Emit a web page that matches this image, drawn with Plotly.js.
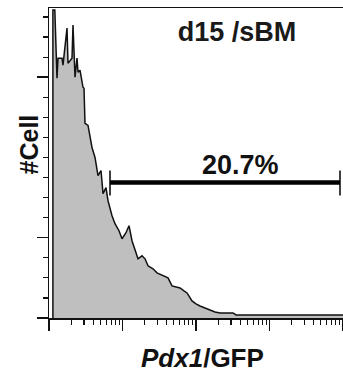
<!DOCTYPE html>
<html>
<head>
<meta charset="utf-8">
<script src="https://cdn.plot.ly/plotly-3.0.1.min.js"></script>
<style>html,body{margin:0;padding:0;background:#fff;}#chart{width:343px;height:379px;}</style>
</head>
<body>
<div id="chart"></div>
<script>
// Pdx1/GFP fluorescence intensity (log scale) and cell counts (arbitrary units)
const gfpIntensity = [1.13, 1.13, 1.2, 1.285, 1.326, 1.503, 1.55, 1.758, 1.814, 2.056, 2.121, 2.258, 2.404, 2.481, 2.641, 2.901, 2.994, 3.089, 3.394, 3.613, 3.846, 4.226, 4.642, 5.099, 5.428, 5.964, 6.349, 7.197, 7.906, 8.962, 9.845, 11.16, 12.26, 13.47, 14.8, 16.25, 18.42, 20.24, 22.23, 26.0, 29.47, 35.56, 41.59, 47.16, 53.45, 60.57, 68.66, 75.44, 88.23, 100, 113.4, 132.6, 155.1, 181.3, 212.1, 318.7, 350.1, 10000];
const cellCount = [0, 15.35, 15.35, 11.95, 12.95, 12.95, 12.6, 14.45, 12.7, 12.95, 14.6, 12.0, 12.95, 12.25, 12.35, 11.5, 11.45, 9.7, 9.6, 9.0, 8.5, 8.0, 7.1, 7.35, 6.2, 6.5, 5.85, 5.1, 4.7, 4.35, 3.95, 4.25, 4.6, 3.85, 3.35, 2.95, 3.1, 2.95, 2.6, 2.45, 2.25, 2.1, 2.0, 1.6, 1.55, 1.5, 1.35, 1.25, 0.85, 0.7, 0.6, 0.5, 0.4, 0.3, 0.25, 0.25, 0.15, 0.15];

// Positive gate
const gateBounds = [6.76, 9100];
const gateLevel = 6.75;
const gateTickLow = 6.1;
const gateTickHigh = 7.35;
const gateLabel = "20.7%";

const sampleTitle = "d15 /sBM";
const xTitle = "<b><i>Pdx1</i>/GFP</b>";
const yTitle = "<b>#Cell</b>";

// axis tick values
const yMajorTicks = [0, 4, 12];
const yMinorTicks = [1, 2, 3, 5, 6, 7, 8, 9, 10, 11, 13, 14, 15];
const xMajorTicks = [1, 10, 100, 1000, 10000];
const xMinorTicks = [];
for (const d of [1, 10, 100, 1000]) for (const m of [2,3,4,5,6,7,8,9]) xMinorTicks.push(d*m);

const traces = [
  {
    x: gfpIntensity, y: cellCount, type: 'scatter', mode: 'lines',
    fill: 'tozeroy', fillcolor: '#bfbfbf',
    line: {color: '#111', width: 1.5, shape: 'linear'},
    hoverinfo: 'skip', showlegend: false
  },
  {
    x: gateBounds, y: [gateLevel, gateLevel], type: 'scatter', mode: 'lines',
    line: {color: '#000', width: 4.5}, showlegend: false, hoverinfo: 'skip'
  },
  {
    x: [gateBounds[0], gateBounds[0]], y: [gateTickLow, gateTickHigh], type: 'scatter', mode: 'lines',
    line: {color: '#000', width: 1.5}, showlegend: false, hoverinfo: 'skip'
  },
  {
    x: [gateBounds[1], gateBounds[1]], y: [gateTickLow, gateTickHigh], type: 'scatter', mode: 'lines',
    line: {color: '#000', width: 1.5}, showlegend: false, hoverinfo: 'skip'
  }
];

const font = "Liberation Sans, Arial, Helvetica, sans-serif";

const layout = {
  width: 343, height: 379,
  margin: {l: 49, r: 0, t: 8, b: 61, pad: 0},
  paper_bgcolor: '#fff', plot_bgcolor: '#fff',
  showlegend: false,
  title: {
    text: '<b>' + sampleTitle + '</b>',
    font: {family: font, size: 27, color: '#1a1a1a'},
    x: 237/343, xanchor: 'center', xref: 'container',
    y: 1 - 32/379, yanchor: 'middle', yref: 'container'
  },
  xaxis: {
    type: 'log', range: [0, 4],
    showgrid: false, zeroline: false,
    showline: true, linecolor: '#111', linewidth: 1.5, mirror: true,
    ticks: 'outside', tickvals: xMajorTicks, ticklen: 11, tickwidth: 1.5, tickcolor: '#111',
    showticklabels: false,
    minor: {tickvals: xMinorTicks, ticks: 'outside', ticklen: 5, tickwidth: 1.2, tickcolor: '#111', showgrid: false}
  },
  yaxis: {
    range: [0, 15.45],
    showgrid: false, zeroline: false,
    showline: true, linecolor: '#111', linewidth: 1.5,
    ticks: 'outside', tickvals: yMajorTicks, ticklen: 11, tickwidth: 1.5, tickcolor: '#111',
    showticklabels: false,
    minor: {tickvals: yMinorTicks, ticks: 'outside', ticklen: 5, tickwidth: 1.2, tickcolor: '#111', showgrid: false}
  },
  annotations: [
    {
      text: '<b>' + gateLabel + '</b>', xref: 'paper', yref: 'paper',
      x: (241-49)/294, y: (317-164)/309, xanchor: 'center', yanchor: 'middle',
      showarrow: false, font: {family: font, size: 27, color: '#111'}
    },
    {
      text: xTitle, xref: 'paper', yref: 'paper',
      x: (202-49)/294, y: -(357-317)/309, xanchor: 'center', yanchor: 'middle',
      showarrow: false, font: {family: font, size: 26, color: '#111'}
    },
    {
      text: yTitle, xref: 'paper', yref: 'paper', textangle: -90,
      x: -(49-29)/294, y: (317-144)/309, xanchor: 'center', yanchor: 'middle',
      showarrow: false, font: {family: font, size: 25, color: '#111'}
    }
  ]
};

Plotly.newPlot('chart', traces, layout, {staticPlot: true, displayModeBar: false});
</script>
</body>
</html>
